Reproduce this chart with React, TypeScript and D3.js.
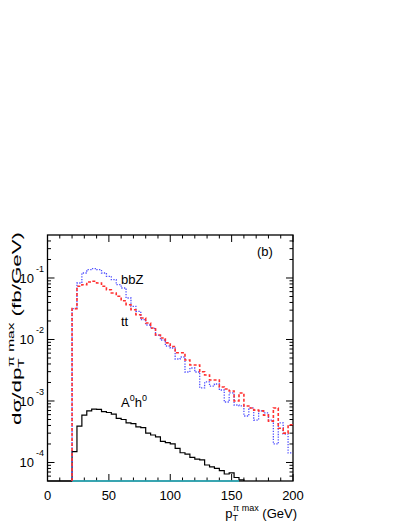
import React from 'react'
import * as d3 from 'd3'

// 4 GeV bins starting at 20 GeV
const binLow = [20, 24, 28, 32, 36, 40, 44, 48, 52, 56, 60, 64, 68, 72, 76, 80, 84, 88, 92, 96,
  100, 104, 108, 112, 116, 120, 124, 128, 132, 136, 140, 144, 148, 152, 156, 160, 164, 168, 172,
  176, 180, 184, 188, 192, 196]
const binWidth = 4

// dsigma/dpT (fb/GeV)
const bbZ = [0.0317, 0.0829, 0.1205, 0.1364, 0.1416, 0.1364, 0.1205, 0.1065, 0.0938, 0.0778,
  0.0688, 0.0473, 0.0346, 0.0287, 0.021, 0.0172, 0.0152, 0.0118, 0.00981, 0.00784,
  0.00727, 0.00482, 0.00519, 0.00296, 0.00344, 0.00296, 0.00163, 0.00204, 0.00175, 0.00189,
  0.00151, 0.000963, 0.00135, 0.00086, 0.00083, 0.00057, 0.00077, 0.00049, 0.00069, 0.00064,
  0.00049, 0.0002, 0.00044, 0.00029, 0.000143]
const ttbar = [0.0317, 0.0733, 0.0778, 0.0861, 0.0884, 0.0829, 0.0733, 0.0645, 0.057, 0.0504,
  0.0427, 0.0368, 0.0305, 0.0253, 0.0224, 0.0185, 0.0154, 0.0118, 0.0106, 0.0088,
  0.0077, 0.0061, 0.0061, 0.00464, 0.00385, 0.00385, 0.00299, 0.00265, 0.00219, 0.00219,
  0.00169, 0.00157, 0.00145, 0.001, 0.00135, 0.00083, 0.00077, 0.00071, 0.00069, 0.00059,
  0.00047, 0.00077, 0.00036, 0.0003, 0.00041]
const a0h0 = [0.00015, 0.00039, 0.00059, 0.00069, 0.00074, 0.00073, 0.00067, 0.00065, 0.00061, 0.00052,
  0.0005, 0.00044, 0.00043, 0.00038, 0.00037, 0.0003, 0.00028, 0.00026, 0.00022, 0.00021,
  0.0002, 0.00017, 0.000144, 0.000137, 0.000121, 0.000113, 0.00011, 0.000091, 0.000085, 0.00008,
  0.000074, 0.000065, 0.000068, 0.000057, 0.000052]
// off-scale (below the frame) process, only visible along the bottom edge
const offScale = [4e-5, 4e-5, 4e-5, 3.8e-5, 3.6e-5, 3.4e-5, 3.2e-5, 3e-5, 2.8e-5, 2.6e-5,
  2.4e-5, 2.2e-5, 2e-5, 1.9e-5, 1.8e-5, 1.7e-5, 1.6e-5, 1.5e-5, 1.4e-5, 1.3e-5,
  1.2e-5, 1.1e-5, 1e-5, 9e-6, 8e-6, 7e-6, 6e-6, 5e-6, 4e-6, 3e-6, 2e-6, 1.5e-6, 1e-6, 1e-6]

const xTicks = [0, 50, 100, 150, 200]
const yDecades = [-4, -3, -2, -1]

const font = 'Liberation Sans, Arial, Helvetica, sans-serif'

const App = () => {
  const left = 47.5, right = 293, top = 235, bottom = 481
  const x = d3.scaleLinear().domain([0, 200]).range([left, right])
  const y = d3.scaleLog().domain([5e-5, 0.5]).range([bottom, top]).clamp(true)
  const floor = 5e-5

  const line = d3.line<[number, number]>()
    .x(d => x(d[0]))
    .y(d => y(Math.max(d[1], 1e-8)))
    .curve(d3.curveStepAfter)

  const hist = (vals: number[], start: number, dropAtEnd: boolean) => {
    const pts: [number, number][] = []
    if (start < binLow[0]) pts.push([start, floor])
    pts.push([binLow[0], floor])
    vals.forEach((v, i) => pts.push([binLow[i], v]))
    const end = binLow[vals.length - 1] + binWidth
    pts.push([end, vals[vals.length - 1]])
    if (dropAtEnd) pts.push([end, floor])
    return line(pts) || ''
  }

  const xMinor = d3.range(0, 201, 10)
  const yMinor: number[] = []
  for (let d = -5; d <= -1; d++) {
    for (let k = 1; k <= 9; k++) {
      const v = k * Math.pow(10, d)
      if (v > 5e-5 * 1.001 && v < 0.5 * 0.999) yMinor.push(v)
    }
  }

  return (
    <svg width={409} height={529} style={{ position: 'absolute', left: 0, top: 0, background: '#fff' }}
      fontFamily={font}>
      {/* frame */}
      <rect x={left} y={top} width={right - left} height={bottom - top} fill="none" stroke="#000" strokeWidth={1.3} />

      {/* x ticks (bottom and top, inward) */}
      {xMinor.map(t => {
        const len = t % 50 === 0 ? 7 : 3.5
        return (
          <g key={'xt' + t}>
            <line x1={x(t)} x2={x(t)} y1={bottom} y2={bottom - len} stroke="#000" strokeWidth={1} />
            <line x1={x(t)} x2={x(t)} y1={top} y2={top + len} stroke="#000" strokeWidth={1} />
          </g>
        )
      })}
      {/* y ticks (left and right, inward) */}
      {yMinor.map(v => {
        const major = Math.abs(Math.log10(v) - Math.round(Math.log10(v))) < 1e-6
        const len = major ? 7 : 3.5
        return (
          <g key={'yt' + v}>
            <line x1={left} x2={left + len} y1={y(v)} y2={y(v)} stroke="#000" strokeWidth={1} />
            <line x1={right} x2={right - len} y1={y(v)} y2={y(v)} stroke="#000" strokeWidth={1} />
          </g>
        )
      })}

      {/* histograms */}
      <path d={hist(a0h0, 0, true)} fill="none" stroke="#000" strokeWidth={1.2} />
      <path d={hist(offScale, 20, true)} fill="none" stroke="#2fbfcf" strokeWidth={1.6} />
      <path d={hist(bbZ, 20, false)} fill="none" stroke="#5050ff" strokeWidth={1.3} strokeDasharray="1.3,1.4" />
      <path d={hist(ttbar, 20, false)} fill="none" stroke="#ff3030" strokeWidth={1.6} strokeDasharray="3,2" />

      {/* x tick labels */}
      {xTicks.map(t => (
        <text key={'xl' + t} x={x(t)} y={500} textAnchor="middle" fontSize={13}>{t}</text>
      ))}
      {/* y tick labels */}
      {yDecades.map(d => (
        <g key={'yl' + d}>
          <text x={34} y={y(Math.pow(10, d)) + 5} textAnchor="end" fontSize={13}>10</text>
          <text x={36} y={y(Math.pow(10, d)) - 6} fontSize={9}>{d}</text>
        </g>
      ))}

      {/* axis titles */}
      <text x={297} y={518} textAnchor="end" fontSize={13}>
        p<tspan dy={3} fontSize={9}>T</tspan>
        <tspan dx={-5} dy={-10} fontSize={9}>π max</tspan>
        <tspan dy={7} fontSize={13}> (GeV)</tspan>
      </text>
      <text transform="translate(21,232) rotate(-90) scale(1.72,1)" textAnchor="end" fontSize={13}>
        dσ/dp<tspan dy={3} fontSize={9}>T</tspan>
        <tspan dx={-5} dy={-10} fontSize={9}>π max</tspan>
        <tspan dy={7} fontSize={13}> (fb/GeV)</tspan>
      </text>

      {/* annotations */}
      <text x={257} y={256} fontSize={13}>(b)</text>
      <text x={121} y={284} fontSize={13}>bbZ</text>
      <text x={121} y={326} fontSize={13}>tt</text>
      <text x={121} y={407} fontSize={13}>
        A<tspan dy={-6} fontSize={9}>0</tspan><tspan dy={6} fontSize={13}>h</tspan><tspan dy={-6} fontSize={9}>0</tspan>
      </text>
    </svg>
  )
}

export default App
